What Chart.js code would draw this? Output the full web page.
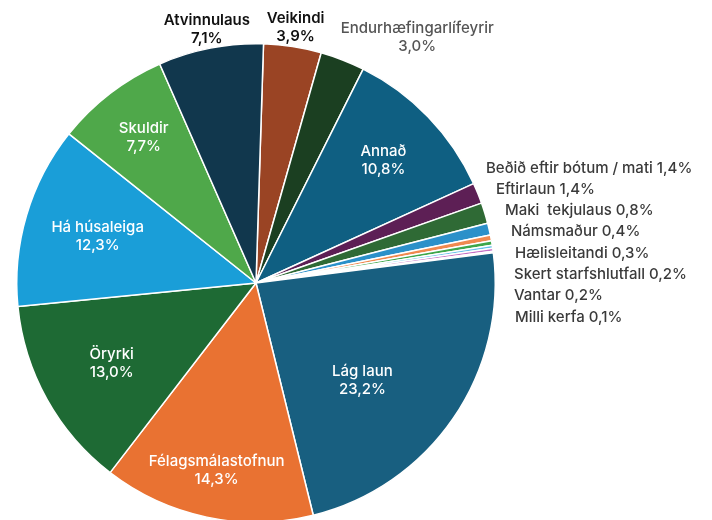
<!DOCTYPE html>
<html>
<head>
<meta charset="utf-8">
<script src="https://cdn.jsdelivr.net/npm/chart.js@4"></script>
<style>
  html, body { margin: 0; padding: 0; background: #fff; overflow: hidden; }
  #wrap { width: 712px; height: 523px; position: relative; }
</style>
</head>
<body>
<div id="wrap"><canvas id="pie"></canvas></div>
<script>
'use strict'
// clockwise from the top
const categories = ['Veikindi', 'Endurhæfingarlífeyrir', 'Annað', 'Beðið eftir bótum / mati', 'Eftirlaun',
  'Maki  tekjulaus', 'Námsmaður', 'Hælisleitandi', 'Skert starfshlutfall', 'Vantar', 'Milli kerfa',
  'Lág laun', 'Félagsmálastofnun', 'Öryrki', 'Há húsaleiga', 'Skuldir', 'Atvinnulaus'];
const shares = [3.9, 3.0, 10.8, 1.4, 1.4, 0.8, 0.4, 0.3, 0.2, 0.2, 0.1, 23.2, 14.3, 13.0, 12.3, 7.7, 7.1];

const sliceColors = ['#9a4424', '#1b3f21', '#0f5f82', '#5d1f55', '#2f6a35', '#2b90c9', '#f0894f', '#3ea64a',
  '#68c0ea', '#c46fc4', '#e8e0f0', '#185f80', '#e97232', '#1e6a34', '#1a9ed8', '#4fa84a', '#11374d'];

// label style per slice: 'in' white inside, 'out' above the pie, 'list' in the right column
const labelKind = ['out', 'out', 'in', 'list', 'list', 'list', 'list', 'list', 'list', 'list', 'list',
  'in', 'in', 'in', 'in', 'in', 'out'];
const labelRadius = [1.08, 1.1, 0.74, 0, 0, 0, 0, 0, 0, 0, 0, 0.6, 0.8, 0.69, 0.69, 0.77, 1.08];
const labelNudge = {1: [66, 0], 11: [-12, 16]};
const listX = [486, 496, 505, 511, 515, 514, 514, 515];
const listTop = 168;
const listStep = 21.3;

const FONT = 'Inter, "Noto Sans", sans-serif';

function fmt(v) {
  return v.toFixed(1).replace('.', ',') + '%';
}

const pieLabels = {
  id: 'pieLabels',
  afterDatasetsDraw(chart) {
    const ctx = chart.ctx;
    const arcs = chart.getDatasetMeta(0).data;
    ctx.save();
    let listIndex = 0;
    arcs.forEach(function (arc, i) {
      const p = arc.getProps(['x', 'y', 'startAngle', 'endAngle', 'outerRadius'], true);
      const mid = (p.startAngle + p.endAngle) / 2;
      const kind = labelKind[i];
      if (kind === 'list') {
        ctx.font = '500 15px ' + FONT;
        ctx.fillStyle = '#3a3a3a';
        ctx.textAlign = 'left';
        ctx.textBaseline = 'middle';
        ctx.fillText(categories[i] + ' ' + fmt(shares[i]), listX[listIndex], listTop + listIndex * listStep);
        listIndex++;
        return;
      }
      const r = p.outerRadius * labelRadius[i];
      const nudge = labelNudge[i] || [0, 0];
      const x = p.x + Math.cos(mid) * r + nudge[0];
      const y = p.y + Math.sin(mid) * r + nudge[1];
      ctx.textAlign = 'center';
      ctx.textBaseline = 'middle';
      if (kind === 'in') {
        ctx.fillStyle = '#fff';
        ctx.font = '500 15px ' + FONT;
      } else {
        ctx.fillStyle = i === 1 ? '#555' : '#111';
        ctx.font = (i === 1 ? '500 ' : '600 ') + '15px ' + FONT;
      }
      ctx.fillText(categories[i], x, y - 9);
      ctx.fillText(fmt(shares[i]), x, y + 9);
    });
    ctx.restore();
  }
};

new Chart(document.getElementById('pie'), {
  type: 'pie',
  data: {
    labels: categories,
    datasets: [{
      data: shares,
      backgroundColor: sliceColors,
      borderColor: '#fff',
      borderWidth: 1.5
    }]
  },
  options: {
    responsive: true,
    maintainAspectRatio: false,
    animation: false,
    rotation: 1.8,
    layout: { padding: { left: 16, right: 216, top: 43, bottom: 0 } },
    plugins: {
      legend: { display: false },
      tooltip: { enabled: false }
    }
  },
  plugins: [pieLabels]
});
</script>
</body>
</html>
